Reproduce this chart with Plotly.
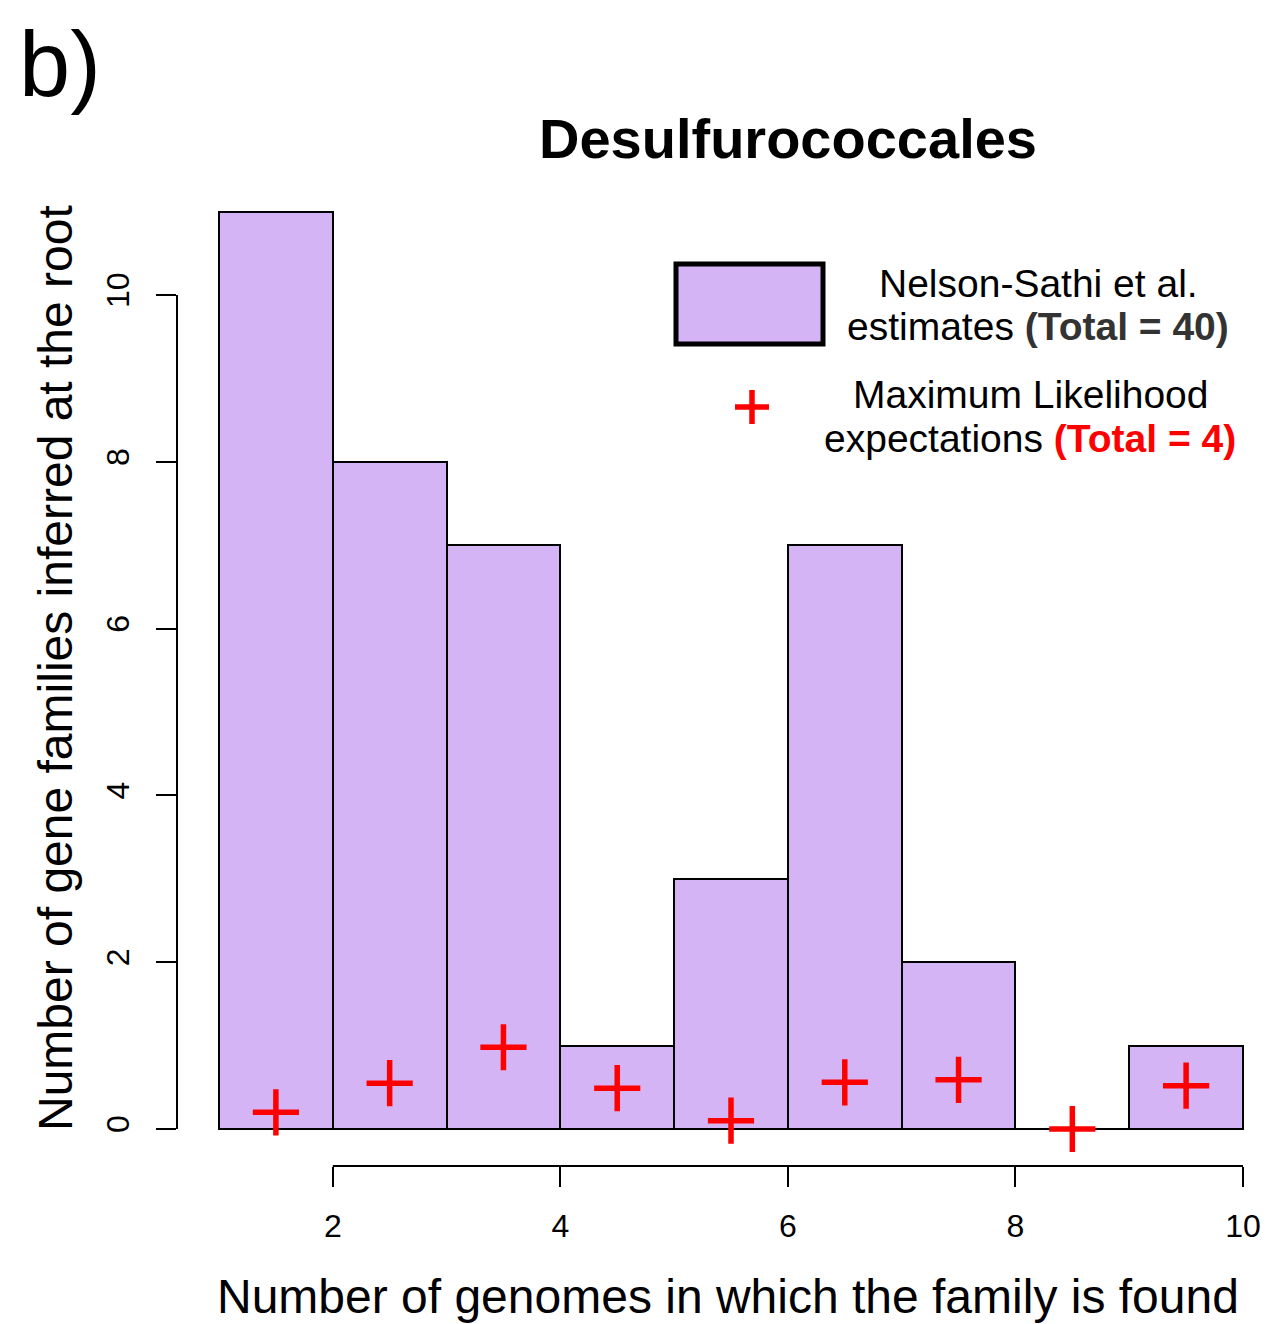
import plotly.graph_objects as go

# ---- data ----
bin_left = [1, 2, 3, 4, 5, 6, 7, 8, 9]
bin_right = [2, 3, 4, 5, 6, 7, 8, 9, 10]
nelson_counts = [11, 8, 7, 1, 3, 7, 2, 0, 1]
ml_expect = [0.20, 0.55, 0.98, 0.49, 0.10, 0.56, 0.59, 0.00, 0.52]
x_ticks = [2, 4, 6, 8, 10]
y_ticks = [0, 2, 4, 6, 8, 10]

centers = [(a + b) / 2 for a, b in zip(bin_left, bin_right)]
widths = [b - a for a, b in zip(bin_left, bin_right)]

OFF = 8  # default page body margin
W, H = 1269 - OFF, 1324 - OFF
L, R, T, B = 177 - OFF, 0, 175 - OFF, 158
PW, PH = W - L - R, H - T - B

def pxx(x):
    return (x - OFF - L) / PW

def pxy(y):
    return (H - B - (y - OFF)) / PH

FILL = "#D5B4F5"
FONT = "Liberation Sans, Arial, Helvetica, sans-serif"

fig = go.Figure()
fig.add_trace(go.Bar(
    x=centers, y=nelson_counts, width=widths,
    marker=dict(color=FILL, line=dict(color="black", width=2)),
    showlegend=False, hoverinfo="skip"))
fig.add_trace(go.Scatter(
    x=centers, y=ml_expect, mode="markers",
    marker=dict(symbol="cross-thin", size=33, line=dict(color="red", width=5.5), color="red"),
    showlegend=False, cliponaxis=False))

# x scale: bar edge 1 -> 219 px, 10 -> 1243 px (page pixels)
ux = (1243 - 219) / 9.0
xr = [1 - (219 - 177) / ux, 1 + (1269 - 219) / ux]
# y scale: 0 -> 1129 px, 10 -> 295 px
uy = (1129 - 295) / 10.0
yr = [-(1166 - 1129) / uy, (1129 - 175) / uy]

fig.update_layout(
    width=W, height=H, margin=dict(l=L, r=R, t=T, b=B),
    paper_bgcolor="white", plot_bgcolor="white",
    font=dict(family=FONT, color="black"),
    bargap=0,
    xaxis=dict(range=xr, showgrid=False, zeroline=False, showline=False,
               tickmode="array", tickvals=x_ticks, ticktext=[str(v) for v in x_ticks],
               ticks="outside", ticklen=20, tickwidth=2, tickcolor="black",
               tickfont=dict(size=32, family=FONT), ticklabelstandoff=12),
    yaxis=dict(range=yr, showgrid=False, zeroline=False, showline=False,
               tickmode="array", tickvals=y_ticks, ticktext=[str(v) for v in y_ticks],
               ticks="outside", ticklen=20, tickwidth=2, tickcolor="black",
               tickangle=-90, tickfont=dict(size=32, family=FONT), ticklabelstandoff=14),
)

# axis lines (R style: only between first and last tick)
fig.add_shape(type="line", xref="x", yref="paper", x0=x_ticks[0], x1=x_ticks[-1], y0=0, y1=0,
              line=dict(color="black", width=2))
fig.add_shape(type="line", xref="paper", yref="y", x0=0, x1=0, y0=y_ticks[0], y1=y_ticks[-1],
              line=dict(color="black", width=2))

# titles
fig.add_annotation(text="<b>Desulfurococcales</b>", x=pxx(788), y=pxy(138), xref="paper", yref="paper",
                   showarrow=False, font=dict(size=56, family=FONT), xanchor="center", yanchor="middle")
fig.add_annotation(text="b)", x=pxx(60), y=pxy(64), xref="paper", yref="paper",
                   showarrow=False, font=dict(size=92, family=FONT), xanchor="center", yanchor="middle")
fig.add_annotation(text="Number of genomes in which the family is found", x=pxx(728), y=pxy(1296),
                   xref="paper", yref="paper", showarrow=False, font=dict(size=48, family=FONT),
                   xanchor="center", yanchor="middle")
fig.add_annotation(text="Number of gene families inferred at the root", x=pxx(55), y=pxy(668),
                   xref="paper", yref="paper", showarrow=False, font=dict(size=48, family=FONT),
                   textangle=-90, xanchor="center", yanchor="middle")

# legend
fig.add_shape(type="rect", xref="paper", yref="paper", x0=pxx(676), x1=pxx(823), y0=pxy(344), y1=pxy(264),
              fillcolor=FILL, line=dict(color="black", width=5))
fig.add_shape(type="line", xref="paper", yref="paper", x0=pxx(735), x1=pxx(769), y0=pxy(407), y1=pxy(407),
              line=dict(color="red", width=5.5))
fig.add_shape(type="line", xref="paper", yref="paper", x0=pxx(752), x1=pxx(752), y0=pxy(390), y1=pxy(424),
              line=dict(color="red", width=5.5))
leg_font = dict(size=39, family=FONT, color="black")
fig.add_annotation(text="Nelson-Sathi et al.", x=pxx(1038), y=pxy(283), xref="paper", yref="paper",
                   showarrow=False, font=leg_font, xanchor="center", yanchor="middle")
fig.add_annotation(text="estimates <b><span style='color:#333333'>(Total = 40)</span></b>", x=pxx(1038), y=pxy(326),
                   xref="paper", yref="paper", showarrow=False, font=leg_font, xanchor="center", yanchor="middle")
fig.add_annotation(text="Maximum Likelihood", x=pxx(1030), y=pxy(394), xref="paper", yref="paper",
                   showarrow=False, font=leg_font, xanchor="center", yanchor="middle")
fig.add_annotation(text="expectations <b><span style='color:red'>(Total = 4)</span></b>", x=pxx(1030), y=pxy(438),
                   xref="paper", yref="paper", showarrow=False, font=leg_font, xanchor="center", yanchor="middle")

fig.write_html("out.html")
